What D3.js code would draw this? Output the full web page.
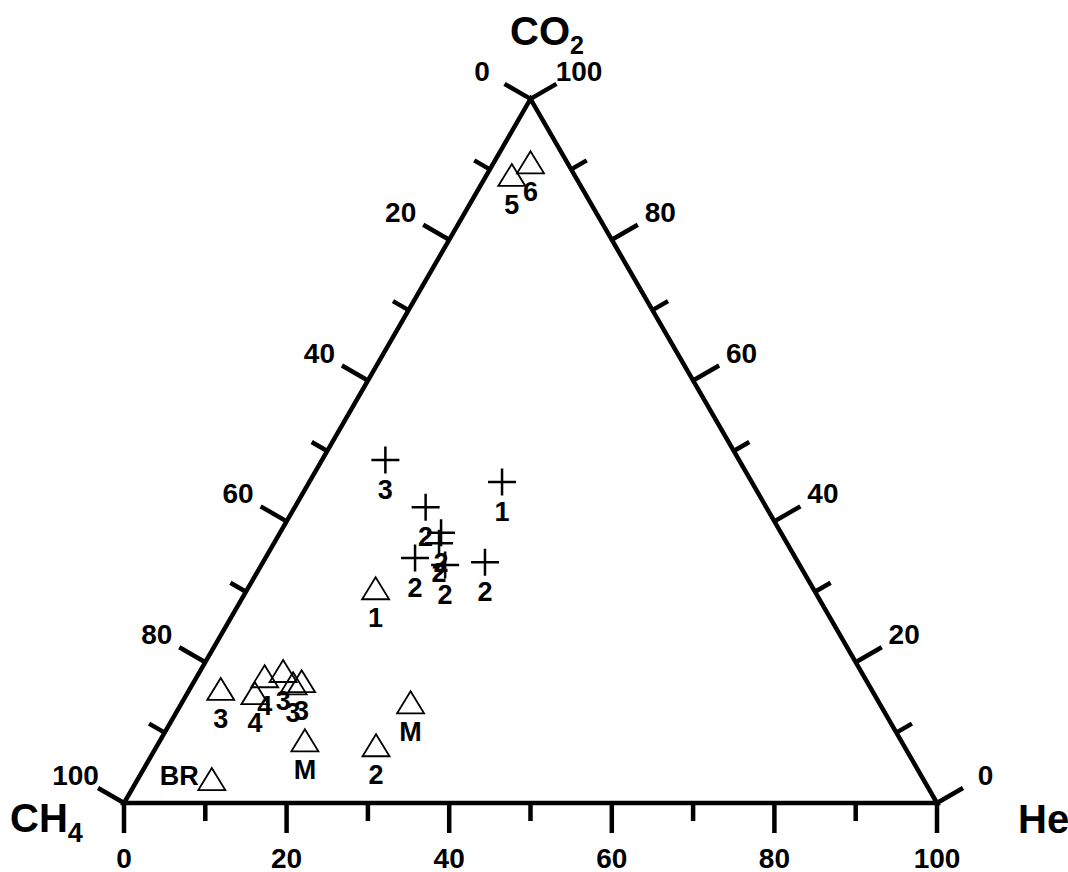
<!DOCTYPE html>
<html>
<head>
<meta charset="utf-8">
<script src="https://cdn.jsdelivr.net/npm/d3@7"></script>
<style>
  body { margin: 0; background: #fff; }
  text { font-family: "Liberation Sans", Arial, sans-serif; font-weight: bold; fill: #000; }
</style>
</head>
<body>
<div id="chart"></div>
<script>
// Open triangles: He %, CO2 %, label (CH4 = 100 - He - CO2)
const triHe    = [3.1, 4.5, 15.7, 28.1, 26.9, 17.8, 9.1, 3.8, 8.3, 8.3, 10.2, 12.3, 13.2];
const triCO2   = [89.2, 91.0, 30.5, 14.3, 8.2, 8.9, 3.4, 16.2, 15.6, 18.0, 18.75, 17.0, 17.3];
const triLabel = ["5", "6", "1", "M", "2", "M", "BR", "3", "4", "4", "3", "3", "3"];

// Crosses
const crossHe    = [7.8, 23.7, 16.1, 19.8, 20.3, 18.4, 22.6, 27.3];
const crossCO2   = [48.7, 45.6, 42.0, 38.4, 36.9, 34.8, 33.8, 34.2];
const crossLabel = ["3", "1", "2", "2", "2", "2", "2", "2"];

const majorTicks = [0, 20, 40, 60, 80, 100];
const allTicks = [0, 10, 20, 30, 40, 50, 60, 70, 80, 90, 100];

const width = 1068, height = 872;
const x0 = 124, y0 = 803, side = 813;
const h = side * Math.sqrt(3) / 2;

const xs = d3.scaleLinear().domain([0, 100]).range([x0, x0 + side]);
const ys = d3.scaleLinear().domain([0, 100]).range([y0, y0 - h]);

// ternary -> screen
function project(he, co2) {
  return [xs(he) + (xs(co2) - x0) / 2, ys(co2)];
}

const svg = d3.select("#chart")
  .append("svg")
  .attr("width", width)
  .attr("height", height);

// Triangle frame
const corners = [project(0, 0), project(100, 0), project(0, 100)];
svg.append("path")
  .attr("d", d3.line()(corners) + "Z")
  .attr("fill", "none")
  .attr("stroke", "#000")
  .attr("stroke-width", 4.5)
  .attr("stroke-linejoin", "miter");

// Axis definitions: base point for value v and outward normal
const cos30 = Math.sqrt(3) / 2;
const axes = [
  { base: v => project(v, 0), n: [0, 1], off: 55 },               // He (bottom)
  { base: v => project(0, 100 - v), n: [-cos30, -0.5], off: 56 }, // CH4 (left)
  { base: v => project(100 - v, v), n: [cos30, -0.5], off: 56 }   // CO2 (right)
];

const tickG = svg.append("g");
axes.forEach(ax => {
  allTicks.forEach(v => {
    const p = ax.base(v);
    const len = majorTicks.includes(v) ? 30 : 18;
    tickG.append("line")
      .attr("x1", p[0]).attr("y1", p[1])
      .attr("x2", p[0] + ax.n[0] * len).attr("y2", p[1] + ax.n[1] * len)
      .attr("stroke", "#000")
      .attr("stroke-width", 4.5);
  });
  majorTicks.forEach(v => {
    const p = ax.base(v);
    tickG.append("text")
      .attr("x", p[0] + ax.n[0] * ax.off)
      .attr("y", p[1] + ax.n[1] * ax.off)
      .attr("dy", "0.36em")
      .attr("text-anchor", "middle")
      .attr("font-size", 28)
      .text(v);
  });
});

// Axis titles
const co2T = svg.append("text").attr("x", 510).attr("y", 45).attr("font-size", 40);
co2T.append("tspan").text("CO");
co2T.append("tspan").attr("font-size", 25).attr("dy", 9).text("2");

const ch4T = svg.append("text").attr("x", 10).attr("y", 832).attr("font-size", 40);
ch4T.append("tspan").text("CH");
ch4T.append("tspan").attr("font-size", 27).attr("dy", 10).text("4");

svg.append("text").attr("x", 1018).attr("y", 833).attr("font-size", 40).text("He");

// Triangle markers
const triData = triHe.map((he, i) => ({ p: project(he, triCO2[i]), label: triLabel[i] }));
const triG = svg.append("g");
triG.selectAll("path")
  .data(triData)
  .join("path")
  .attr("transform", d => `translate(${d.p[0]},${d.p[1]})`)
  .attr("d", "M0,-11L13.5,11L-13.5,11Z")
  .attr("fill", "none")
  .attr("stroke", "#000")
  .attr("stroke-width", 1.8);

triG.selectAll("text")
  .data(triData)
  .join("text")
  .attr("x", d => d.label === "BR" ? d.p[0] - 13 : d.p[0])
  .attr("y", d => d.label === "BR" ? d.p[1] + 6 : d.p[1] + 39)
  .attr("text-anchor", d => d.label === "BR" ? "end" : "middle")
  .attr("font-size", 27)
  .text(d => d.label);

// Cross markers
const crossData = crossHe.map((he, i) => ({ p: project(he, crossCO2[i]), label: crossLabel[i] }));
const crossG = svg.append("g");
crossG.selectAll("path")
  .data(crossData)
  .join("path")
  .attr("transform", d => `translate(${d.p[0]},${d.p[1]})`)
  .attr("d", "M-14,0H14M0,-13.5V13.5")
  .attr("fill", "none")
  .attr("stroke", "#000")
  .attr("stroke-width", 2.5);

crossG.selectAll("text")
  .data(crossData)
  .join("text")
  .attr("x", d => d.p[0])
  .attr("y", d => d.p[1] + 39)
  .attr("text-anchor", "middle")
  .attr("font-size", 27)
  .text(d => d.label);
</script>
</body>
</html>
